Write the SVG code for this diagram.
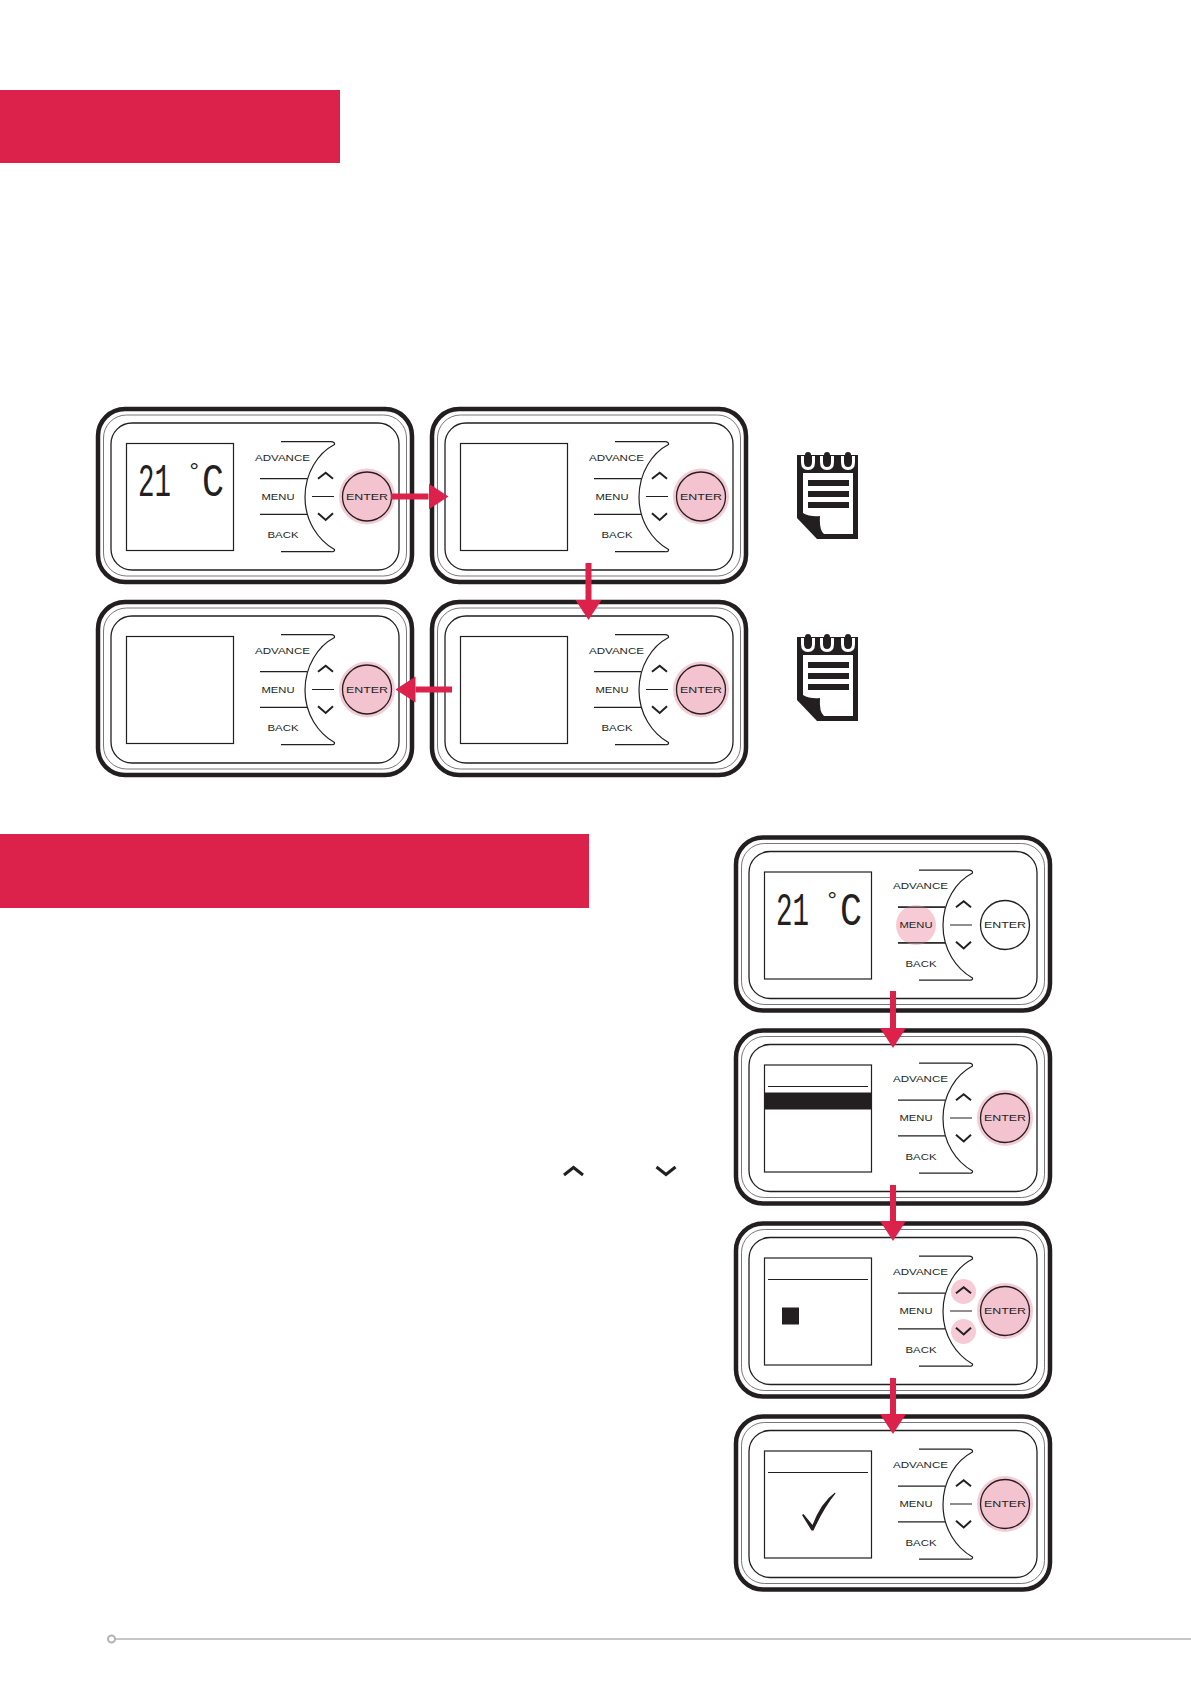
<svg xmlns="http://www.w3.org/2000/svg" xmlns:xlink="http://www.w3.org/1999/xlink" width="1191" height="1684" viewBox="0 0 1191 1684">
<style>
.bar{fill:#dc224b}
.t{font-family:"Liberation Sans",Arial,sans-serif;font-size:9.8px;fill:#231f20}
.lcd{font-family:"Liberation Mono","DejaVu Sans Mono",monospace;font-size:47px;fill:#231f20}
.deg{font-family:"Liberation Mono","DejaVu Sans Mono",monospace;font-size:24px;fill:#231f20}
.ln{fill:none;stroke:#231f20;stroke-width:1.2}
.chev{fill:none;stroke:#231f20;stroke-width:2}
.halo{fill:#f6cbd6}
.btn{fill:#f3c3cf;stroke:#231f20;stroke-width:1.3}
.btnoff{fill:#fff;stroke:#231f20;stroke-width:1.3}
.arrow{fill:none;stroke:#dc224b;stroke-width:6;marker-end:url(#head)}
</style>
<defs>
<marker id="head" markerUnits="userSpaceOnUse" markerWidth="22" markerHeight="28" refX="0" refY="14" orient="auto">
<path d="M0 1L20 14L0 27Z" fill="#dc224b"/>
</marker>
<g id="shell">
<rect x="98" y="409" width="314" height="173" rx="27" fill="#fff" stroke="#231f20" stroke-width="4.5"/>
<rect x="103.500" y="415" width="303" height="161" rx="23" fill="none" stroke="#555" stroke-width="0.8"/>
<rect x="111" y="423" width="288" height="147" rx="21" fill="#fff" stroke="#231f20" stroke-width="1.3"/>
<rect x="126.500" y="443.500" width="107" height="107" fill="#fff" stroke="#231f20" stroke-width="1.2"/>
<path class="ln" d="M281 441.700H331Q335 442 334.500 444.500C318 453 305 473 305 497C305 521 318 540 334.500 549.500Q335 552 331 551.700H281"/>
<path class="ln" d="M260 478.700H307M260 514.300H307M312 496.500H334"/>
</g>
<path id="chevs" class="chev" d="M318 478.700L325.700 472.700L333 478.700M318 513.300L325.700 520L333 513.300"/>
<g id="note">
<path d="M797 455H858V539H817L797 518Z" fill="#231f20"/>
<path d="M803 473H853V534H824Q819 530 820 516Q810 517 803 513Z" fill="#fff"/>
<path d="M808 480H849V486H808ZM808 491H849V497H808ZM808 502H849V508H808Z" fill="#231f20"/>
<path d="M802.500 456V462Q802.500 468.500 808 468.500Q813.500 468.500 813.500 462V456M821.500 456V462Q821.500 468.500 827 468.500Q832.500 468.500 832.500 462V456M842.500 456V462Q842.500 468.500 848 468.500Q853.500 468.500 853.500 462V456" fill="none" stroke="#fff" stroke-width="3"/>
<path d="M808 455V459M827 455V459M848 455V459" fill="none" stroke="#231f20" stroke-width="6" stroke-linecap="round"/>
</g>
</defs>
<rect width="1191" height="1684" fill="#fff"/>
<rect class="bar" x="0" y="90" width="340" height="73"/>
<rect class="bar" x="0" y="834" width="589" height="74"/>

<g id="panel-1">
<use xlink:href="#shell" href="#shell"/><use href="#chevs" xlink:href="#chevs"/>
<circle class="halo" cx="367" cy="496.500" r="28"/><circle class="btn" cx="367" cy="496.500" r="24.500"/>
<text class="t" x="255" y="460.500" textLength="55" lengthAdjust="spacingAndGlyphs">ADVANCE</text>
<text class="t" x="261.500" y="499.500" textLength="33" lengthAdjust="spacingAndGlyphs">MENU</text>
<text class="t" x="267.500" y="538" textLength="31" lengthAdjust="spacingAndGlyphs">BACK</text>
<text class="t" x="346" y="499.500" textLength="42" lengthAdjust="spacingAndGlyphs">ENTER</text>
<text class="lcd" x="138" y="496" textLength="33" lengthAdjust="spacingAndGlyphs">21</text>
<text class="deg" x="187" y="479">°</text><text class="lcd" x="202" y="496" textLength="22" lengthAdjust="spacingAndGlyphs">C</text>
</g>

<g id="panel-2" transform="translate(334,0)">
<use xlink:href="#shell" href="#shell"/><use href="#chevs" xlink:href="#chevs"/>
<circle class="halo" cx="367" cy="496.500" r="28"/><circle class="btn" cx="367" cy="496.500" r="24.500"/>
<text class="t" x="255" y="460.500" textLength="55" lengthAdjust="spacingAndGlyphs">ADVANCE</text>
<text class="t" x="261.500" y="499.500" textLength="33" lengthAdjust="spacingAndGlyphs">MENU</text>
<text class="t" x="267.500" y="538" textLength="31" lengthAdjust="spacingAndGlyphs">BACK</text>
<text class="t" x="346" y="499.500" textLength="42" lengthAdjust="spacingAndGlyphs">ENTER</text>
</g>

<g id="panel-3" transform="translate(0,193)">
<use xlink:href="#shell" href="#shell"/><use href="#chevs" xlink:href="#chevs"/>
<circle class="halo" cx="367" cy="496.500" r="28"/><circle class="btn" cx="367" cy="496.500" r="24.500"/>
<text class="t" x="255" y="460.500" textLength="55" lengthAdjust="spacingAndGlyphs">ADVANCE</text>
<text class="t" x="261.500" y="499.500" textLength="33" lengthAdjust="spacingAndGlyphs">MENU</text>
<text class="t" x="267.500" y="538" textLength="31" lengthAdjust="spacingAndGlyphs">BACK</text>
<text class="t" x="346" y="499.500" textLength="42" lengthAdjust="spacingAndGlyphs">ENTER</text>
</g>

<g id="panel-4" transform="translate(334,193)">
<use xlink:href="#shell" href="#shell"/><use href="#chevs" xlink:href="#chevs"/>
<circle class="halo" cx="367" cy="496.500" r="28"/><circle class="btn" cx="367" cy="496.500" r="24.500"/>
<text class="t" x="255" y="460.500" textLength="55" lengthAdjust="spacingAndGlyphs">ADVANCE</text>
<text class="t" x="261.500" y="499.500" textLength="33" lengthAdjust="spacingAndGlyphs">MENU</text>
<text class="t" x="267.500" y="538" textLength="31" lengthAdjust="spacingAndGlyphs">BACK</text>
<text class="t" x="346" y="499.500" textLength="42" lengthAdjust="spacingAndGlyphs">ENTER</text>
</g>

<g id="note-1"><use href="#note" xlink:href="#note"/></g>
<g id="note-2" transform="translate(0,182)"><use href="#note" xlink:href="#note"/></g>

<g id="panel-5" transform="translate(638,428.500)">
<use xlink:href="#shell" href="#shell"/><use href="#chevs" xlink:href="#chevs"/>
<circle class="halo" cx="278" cy="496.500" r="20"/>
<path class="ln" d="M260 478.700H307M260 514.300H307"/>
<circle class="btnoff" cx="367" cy="496.500" r="24.500"/>
<text class="t" x="255" y="460.500" textLength="55" lengthAdjust="spacingAndGlyphs">ADVANCE</text>
<text class="t" x="261.500" y="499.500" textLength="33" lengthAdjust="spacingAndGlyphs">MENU</text>
<text class="t" x="267.500" y="538" textLength="31" lengthAdjust="spacingAndGlyphs">BACK</text>
<text class="t" x="346" y="499.500" textLength="42" lengthAdjust="spacingAndGlyphs">ENTER</text>
<text class="lcd" x="138" y="496" textLength="33" lengthAdjust="spacingAndGlyphs">21</text>
<text class="deg" x="187" y="479">°</text><text class="lcd" x="202" y="496" textLength="22" lengthAdjust="spacingAndGlyphs">C</text>
</g>

<g id="panel-6" transform="translate(638,621.500)">
<use xlink:href="#shell" href="#shell"/><use href="#chevs" xlink:href="#chevs"/>
<path class="ln" d="M130 465H230"/><rect x="126.500" y="471" width="107" height="17" fill="#231f20"/>
<circle class="halo" cx="367" cy="496.500" r="28"/><circle class="btn" cx="367" cy="496.500" r="24.500"/>
<text class="t" x="255" y="460.500" textLength="55" lengthAdjust="spacingAndGlyphs">ADVANCE</text>
<text class="t" x="261.500" y="499.500" textLength="33" lengthAdjust="spacingAndGlyphs">MENU</text>
<text class="t" x="267.500" y="538" textLength="31" lengthAdjust="spacingAndGlyphs">BACK</text>
<text class="t" x="346" y="499.500" textLength="42" lengthAdjust="spacingAndGlyphs">ENTER</text>
</g>

<g id="panel-7" transform="translate(638,814.500)">
<use xlink:href="#shell" href="#shell"/>
<circle class="halo" cx="325.500" cy="477" r="12.500"/><circle class="halo" cx="325.500" cy="517" r="12.500"/>
<use href="#chevs" xlink:href="#chevs"/>
<path class="ln" d="M130 465H230"/><rect x="144" y="493" width="17" height="17" fill="#231f20"/>
<circle class="halo" cx="367" cy="496.500" r="28"/><circle class="btn" cx="367" cy="496.500" r="24.500"/>
<text class="t" x="255" y="460.500" textLength="55" lengthAdjust="spacingAndGlyphs">ADVANCE</text>
<text class="t" x="261.500" y="499.500" textLength="33" lengthAdjust="spacingAndGlyphs">MENU</text>
<text class="t" x="267.500" y="538" textLength="31" lengthAdjust="spacingAndGlyphs">BACK</text>
<text class="t" x="346" y="499.500" textLength="42" lengthAdjust="spacingAndGlyphs">ENTER</text>
</g>

<g id="panel-8" transform="translate(638,1007.500)">
<use xlink:href="#shell" href="#shell"/><use href="#chevs" xlink:href="#chevs"/>
<path class="ln" d="M130 465H230"/>
<path d="M164 507.500L165.500 506.500L174.500 517.500Q183 495 197 485L197.500 486Q186 500 175.500 523L173.500 523Z" fill="#231f20"/>
<circle class="halo" cx="367" cy="496.500" r="28"/><circle class="btn" cx="367" cy="496.500" r="24.500"/>
<text class="t" x="255" y="460.500" textLength="55" lengthAdjust="spacingAndGlyphs">ADVANCE</text>
<text class="t" x="261.500" y="499.500" textLength="33" lengthAdjust="spacingAndGlyphs">MENU</text>
<text class="t" x="267.500" y="538" textLength="31" lengthAdjust="spacingAndGlyphs">BACK</text>
<text class="t" x="346" y="499.500" textLength="42" lengthAdjust="spacingAndGlyphs">ENTER</text>
</g>

<g id="inline-icons" fill="none" stroke="#231f20" stroke-width="3">
<path d="M564 1175L573.500 1167.500L583 1175"/>
<path d="M656.500 1167L666 1174.500L675.500 1167"/>
</g>

<g id="connectors">
<line class="arrow" x1="391" y1="496.500" x2="428.500" y2="496.500"/>
<line class="arrow" x1="588.500" y1="563" x2="588.500" y2="600"/>
<line class="arrow" x1="452" y1="689.500" x2="415.500" y2="689.500"/>
<line class="arrow" x1="893" y1="991" x2="893" y2="1028"/>
<line class="arrow" x1="893" y1="1185" x2="893" y2="1221"/>
<line class="arrow" x1="893" y1="1378" x2="893" y2="1414"/>
</g>

<g id="footer">
<circle cx="111.500" cy="1639" r="3.500" fill="none" stroke="#b3b3b3" stroke-width="2"/>
<line x1="115" y1="1639" x2="1191" y2="1639" stroke="#b3b3b3" stroke-width="1.600"/>
</g>
</svg>
